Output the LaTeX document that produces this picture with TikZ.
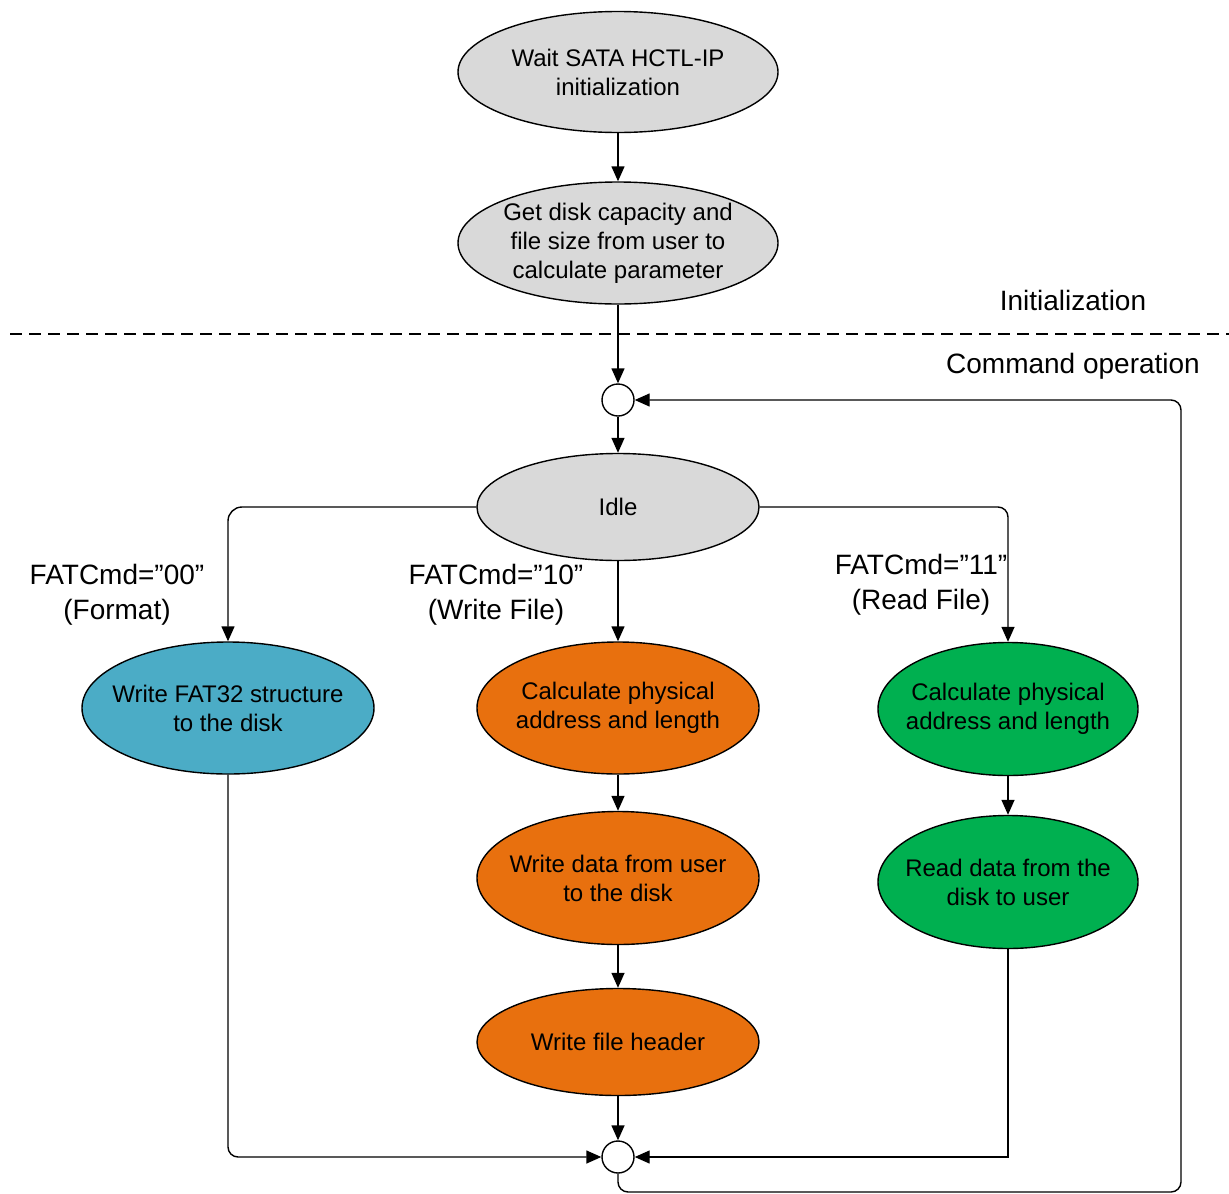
\documentclass[tikz,border=0pt]{standalone}
\usepackage{fontspec}
\setmainfont{Liberation Sans}
\usetikzlibrary{shapes.geometric,arrows.meta}
\definecolor{stategray}{HTML}{D9D9D9}
\definecolor{fatblue}{HTML}{4BACC6}
\definecolor{wrorange}{HTML}{E8700E}
\definecolor{rdgreen}{HTML}{00B050}
\tikzset{
  state/.style={ellipse, draw=black, line width=1.4pt, inner xsep=-80pt, inner ysep=-50pt,
    align=center, font=\fontsize{24}{29}\selectfont},
  junction/.style={circle, draw=black, line width=1.4pt, fill=white,
    minimum size=32pt, inner sep=0pt},
  flow/.style={line width=1.4pt, -{Triangle[length=15pt,width=13pt]}},
  link/.style={line width=1.4pt},
  caption/.style={align=center, font=\fontsize{28}{35}\selectfont}
}
\begin{document}
\begin{tikzpicture}[x=1pt,y=-1pt]
\useasboundingbox (0,0) rectangle (1229,1194);

% initialization states
\node[state, fill=stategray, minimum width=320pt, minimum height=121pt] (wait) at (618,72)
  {Wait SATA HCTL-IP\\initialization};
\node[state, fill=stategray, minimum width=320pt, minimum height=122pt] (getcap) at (618,243)
  {Get disk capacity and\\file size from user to\\calculate parameter};

% phase separator
\draw[link, dashed, dash pattern=on 12pt off 7pt] (10,334) -- (1229,334);
\node[caption, anchor=center] (initlbl) at (1073,300) {Initialization};
\node[caption, anchor=center] (cmdlbl) at (1073,366) {Command operation};

% command states
\node[junction] (jtop) at (618,400) {};
\node[state, fill=stategray, minimum width=282pt, minimum height=107pt] (idle) at (618,507) {Idle};

\node[state, fill=fatblue, minimum width=292pt, minimum height=132pt] (fat) at (228,708)
  {Write FAT32 structure\\to the disk};

\node[state, fill=wrorange, minimum width=282pt, minimum height=132pt] (wcalc) at (618,708)
  {Calculate physical\\address and length};
\node[state, fill=wrorange, minimum width=282pt, minimum height=133pt] (wdata) at (618,878)
  {Write data from user\\to the disk};
\node[state, fill=wrorange, minimum width=282pt, minimum height=107pt] (whead) at (618,1042)
  {Write file header};

\node[state, fill=rdgreen, minimum width=260pt, minimum height=133pt] (rcalc) at (1008,709)
  {Calculate physical\\address and length};
\node[state, fill=rdgreen, minimum width=260pt, minimum height=133pt] (rdata) at (1008,882)
  {Read data from the\\disk to user};

\node[junction] (jbot) at (618,1157) {};

% branch labels
\node[caption] (lblfmt) at (117,595) {FATCmd=”00”\\(Format)};
\node[caption] (lblwr) at (496,595) {FATCmd=”10”\\(Write File)};
\node[caption] (lblrd) at (921,585) {FATCmd=”11”\\(Read File)};

% connectors
\draw[flow] (wait) -- (getcap);
\draw[flow] (getcap) -- (jtop);
\draw[flow] (jtop) -- (idle);
\draw[flow, rounded corners=14pt] (idle.west) -| (fat.north);
\draw[flow] (idle) -- (wcalc);
\draw[flow, rounded corners=10pt] (idle.east) -| (rcalc.north);
\draw[flow] (wcalc) -- (wdata);
\draw[flow] (wdata) -- (whead);
\draw[flow] (whead) -- (jbot);
\draw[flow] (rcalc) -- (rdata);
\draw[flow, rounded corners=10pt] (fat.south) |- (jbot.west);
\draw[flow] (rdata.south) |- (jbot.east);

% loop back to idle
\coordinate (loopcorner) at (1181,1192);
\draw[flow, rounded corners=10pt] (jbot.south) |- (loopcorner) |- (jtop.east);
\end{tikzpicture}
\end{document}
